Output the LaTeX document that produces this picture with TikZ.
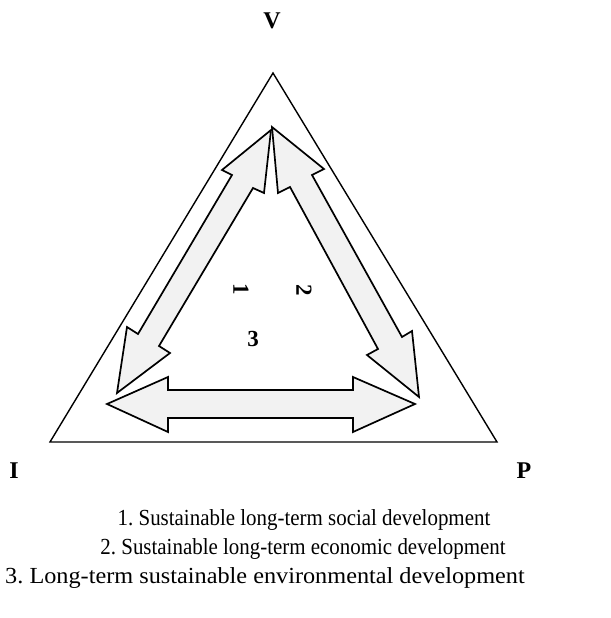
\documentclass[tikz,border=0pt]{standalone}
\usepackage{fontspec}
\setmainfont{Liberation Serif}
\definecolor{arrowfill}{HTML}{F2F2F2}
\begin{document}
\frenchspacing
\begin{tikzpicture}[x=1pt,y=-1pt,
  frame/.style={draw=black,line width=1.4pt,line join=miter},
  blockarrow/.style={draw=black,fill=arrowfill,line width=1.7pt,line join=miter},
  corner/.style={font=\bfseries\fontsize{24}{28}\selectfont,inner sep=0pt},
  num/.style={font=\bfseries\fontsize{23}{27}\selectfont,inner sep=0pt},
  legend/.style={font=\fontsize{23}{27}\selectfont,inner sep=0pt,anchor=base}]
\useasboundingbox (0,0) rectangle (610,618);
% outer triangle
\coordinate (A) at (273,73);
\coordinate (B) at (50,442);
\coordinate (C) at (497,442);
\draw[frame] (A) -- (B) -- (C) -- cycle;
% left double arrow (1)
\draw[blockarrow] (271,130) -- (222,170) -- (232,175) -- (138,334) -- (127,327)
  -- (117,393) -- (170,353) -- (159,346) -- (253,188) -- (264,193) -- cycle;
% right double arrow (2)
\draw[blockarrow] (272,127) -- (324,169) -- (312,175) -- (402,337) -- (412,331)
  -- (419,397) -- (367,355) -- (378,349) -- (290,187) -- (278,193) -- cycle;
% bottom double arrow (3)
\draw[blockarrow] (107,404) -- (168,377) -- (168,390) -- (353,390) -- (353,377)
  -- (415,404) -- (353,432) -- (353,418) -- (168,418) -- (168,432) -- cycle;
% corner labels
\node[corner] (V) at (272,21) {V};
\node[corner] (I) at (14,471) {I};
\node[corner] (P) at (524,471) {P};
% numbers
\node[num,rotate=-90] (n1) at (241,289) {1};
\node[num,rotate=-90] (n2) at (304,290) {2};
\node[num] (n3) at (253,339) {3};
% legend
\node[legend,xscale=0.91] (l1) at (304,525) {1. Sustainable long-term social development};
\node[legend,xscale=0.91] (l2) at (303,554) {2. Sustainable long-term economic development};
\node[legend,xscale=1.055] (l3) at (265,583) {3. Long-term sustainable environmental development};
\end{tikzpicture}
\end{document}
